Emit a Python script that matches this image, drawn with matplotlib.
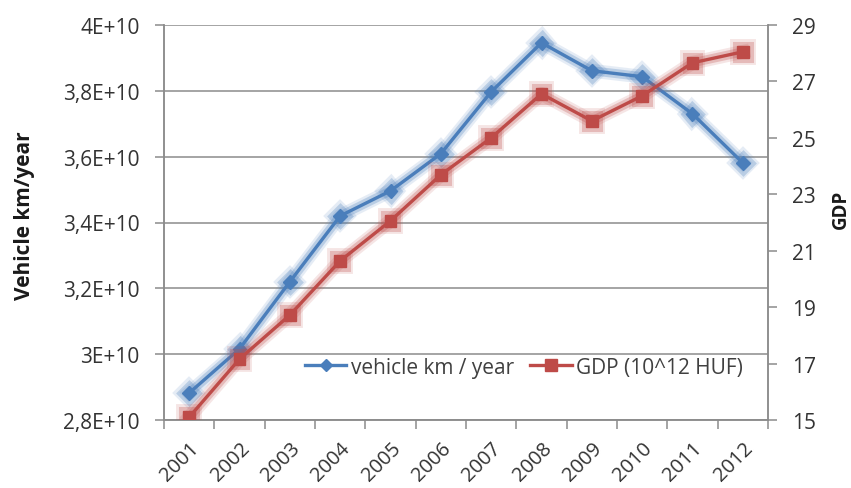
import matplotlib
matplotlib.use("Agg")
import matplotlib.pyplot as plt
import matplotlib.patheffects as pe
from matplotlib.lines import Line2D

plt.rcParams['font.family'] = ['Open Sans', 'DejaVu Sans']

# data
years = ['2001', '2002', '2003', '2004', '2005', '2006',
         '2007', '2008', '2009', '2010', '2011', '2012']
vehicle_km = [2.882e10, 3.016e10, 3.22e10, 3.42e10, 3.496e10, 3.609e10,
              3.797e10, 3.946e10, 3.861e10, 3.843e10, 3.73e10, 3.581e10]
gdp = [15.1, 17.16, 18.72, 20.64, 22.06, 23.69,
       25.0, 26.56, 25.6, 26.49, 27.66, 28.05]

left_ticks = [2.8e10, 3.0e10, 3.2e10, 3.4e10, 3.6e10, 3.8e10, 4.0e10]
left_labels = ['2,8E+10', '3E+10', '3,2E+10', '3,4E+10', '3,6E+10', '3,8E+10', '4E+10']
right_ticks = [15, 17, 19, 21, 23, 25, 27, 29]

blue = '#4a7ebb'
red = '#be4b48'
grid_col = '#8c8c8c'
text_col = '#333333'

fig = plt.figure(figsize=(8.51, 4.89), dpi=100)
ax = fig.add_axes([164 / 851, 1 - 421 / 489, 604 / 851, 395 / 489])
ax2 = ax.twinx()

x = list(range(len(years)))

def glow(color):
    # soft halo like the Excel glow effect
    return [pe.Stroke(linewidth=10, foreground=color, alpha=0.14),
            pe.Stroke(linewidth=6.5, foreground=color, alpha=0.28),
            pe.Normal()]

ax.plot(x, vehicle_km, color=blue, lw=2.4, marker='D', ms=7,
        path_effects=glow(blue), zorder=3)
ax2.plot(x, gdp, color=red, lw=2.4, marker='s', ms=8.5,
         path_effects=glow(red), zorder=3)

# left axis
ax.set_ylim(2.8e10, 4.0e10)
ax.set_yticks(left_ticks)
ax.set_yticklabels(left_labels)
ax.set_xlim(-0.5, len(years) - 0.5)
ax.grid(axis='y', color=grid_col, lw=1.1)
ax.set_axisbelow(True)

# categories with tick marks between them
ax.set_xticks(x)
ax.set_xticklabels(years, rotation=45, ha='right', va='top', rotation_mode='anchor')
ax.set_xticks([i - 0.5 for i in range(len(years) + 1)], minor=True)
ax.tick_params(axis='x', which='major', length=0, pad=13)
ax.tick_params(axis='x', which='minor', length=6.5, color=grid_col, width=1.1)
ax.tick_params(axis='y', length=6.5, color=grid_col, width=1.1, pad=11)
ax.tick_params(labelsize=15, labelcolor=text_col)
ax.tick_params(axis='x', labelsize=14.5)

# right axis
ax2.set_ylim(15, 29)
ax2.set_yticks(right_ticks)
ax2.tick_params(axis='y', length=6.5, color=grid_col, width=1.1, labelsize=15,
                labelcolor=text_col, pad=11)

for a in (ax, ax2):
    a.spines['top'].set_visible(False)
    for s in ('left', 'right', 'bottom'):
        a.spines[s].set_color(grid_col)
        a.spines[s].set_linewidth(1.1)

ax.set_ylabel('Vehicle km/year', fontsize=15, fontweight='bold', color='#1a1a1a')
ax.yaxis.set_label_coords(-0.213, 0.52)
ax2.set_ylabel('GDP', fontsize=13.5, fontweight='bold', color='#1a1a1a')
ax2.yaxis.set_label_coords(1.104, 0.535)

handles = [Line2D([0], [0], color=blue, lw=2.4, marker='D', ms=6.5),
           Line2D([0], [0], color=red, lw=2.4, marker='s', ms=8)]
ax2.legend(handles, ['vehicle km / year', 'GDP (10^12 HUF)'], loc='center',
           bbox_to_anchor=(0.596, 0.134), ncol=2, frameon=False, fontsize=15,
           handlelength=2.0, handletextpad=0.2, columnspacing=0.8,
           labelcolor='#404040')

fig.savefig('out.png', dpi=100)
